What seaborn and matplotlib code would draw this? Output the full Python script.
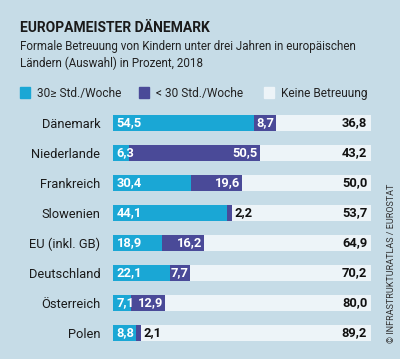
import numpy as np
import pandas as pd
import matplotlib
matplotlib.use("Agg")
import matplotlib.pyplot as plt
from matplotlib.patches import Rectangle
import seaborn as sns

# ==================== DATA ====================
countries = ["Dänemark", "Niederlande", "Frankreich", "Slowenien",
             "EU (inkl. GB)", "Deutschland", "Österreich", "Polen"]
full_time = [54.5, 6.3, 30.4, 44.1, 18.9, 22.1, 7.1, 8.8]     # 30≥ Std./Woche
part_time = [8.7, 50.5, 19.6, 2.2, 16.2, 7.7, 12.9, 2.1]      # < 30 Std./Woche
no_care = [36.8, 43.2, 50.0, 53.7, 64.9, 70.2, 80.0, 89.2]    # Keine Betreuung

legend_labels = ["30≥ Std./Woche", "< 30 Std./Woche", "Keine Betreuung"]
title = "EUROPAMEISTER DÄNEMARK"
subtitle_lines = ["Formale Betreuung von Kindern unter drei Jahren in europäischen",
                  "Ländern (Auswahl) in Prozent, 2018"]
credit = "© INFRASTRUKTURATLAS / EUROSTAT"

# ==================== STYLE ====================
BG = "#c6dce7"
CYAN = "#1aa7d5"
DARK = "#4a4a98"
LIGHT = "#edf4f8"
FONT = ["Roboto", "DejaVu Sans"]

sns.set_style("white")
plt.rcParams["font.family"] = FONT

df = pd.DataFrame({"land": countries, "voll": full_time,
                   "teil": part_time, "keine": no_care})
df["cum2"] = df["voll"] + df["teil"]
df["total"] = df["cum2"] + df["keine"]

fig = plt.figure(figsize=(4.0, 3.59), dpi=100, facecolor=BG)
ax = fig.add_axes([113 / 400, 1 - 348 / 359, 258 / 400, 240 / 359])
ax.set_facecolor(BG)

# stacked bars: draw cumulative totals back to front
for col, c in [("total", LIGHT), ("cum2", DARK), ("voll", CYAN)]:
    sns.barplot(data=df, x=col, y="land", orient="h", color=c, saturation=1,
                width=0.55, linewidth=0, errorbar=None, ax=ax)

ax.set_xlim(0, 100)
ax.set_ylim(len(countries) - 0.5, -0.5)
sns.despine(ax=ax, left=True, bottom=True)
ax.set_xticks([])
ax.set_xlabel("")
ax.set_ylabel("")
ax.tick_params(axis="y", length=0, pad=9, labelsize=9.3, labelcolor="#1a1a1a")

def fmt(v):
    return f"{v:.1f}".replace(".", ",")

VAL_FS = 9.3
for i, row in df.iterrows():
    ax.text(1.5, i, fmt(row["voll"]), color="white", fontsize=VAL_FS,
            va="center", ha="left", fontweight="bold")
    if row["teil"] < 5:
        ax.text(row["cum2"] + 0.8, i, fmt(row["teil"]), color="#111111",
                fontsize=VAL_FS, va="center", ha="left", fontweight="bold")
    else:
        ax.text(row["cum2"] - 0.6, i, fmt(row["teil"]), color="white",
                fontsize=VAL_FS, va="center", ha="right", fontweight="bold")
    ax.text(98.5, i, fmt(row["keine"]), color="#111111", fontsize=VAL_FS,
            va="center", ha="right", fontweight="bold")

# ==================== TITLE / LEGEND ====================
fig.text(20 / 400, 1 - 32 / 359, title, fontsize=10, fontweight="bold",
         color="#1a1a1a", va="baseline")
for k, line in enumerate(subtitle_lines):
    fig.text(20 / 400, 1 - (50 + 17 * k) / 359, line, fontsize=8.4,
             color="#222222", va="baseline")

leg_x = [20, 139, 264]
for lx, lab, c in zip(leg_x, legend_labels, [CYAN, DARK, LIGHT]):
    fig.patches.append(Rectangle((lx / 400, 1 - 98 / 359), 10 / 400, 11 / 359,
                                 transform=fig.transFigure, color=c))
    fig.text((lx + 17) / 400, 1 - 97 / 359, lab, fontsize=8.6,
             color="#222222", va="baseline")

fig.text(391 / 400, 1 - 343 / 359, credit, rotation=90, fontsize=6.5,
         color="#333333", ha="center", va="bottom")

fig.savefig("out.png", dpi=100, facecolor=BG)
